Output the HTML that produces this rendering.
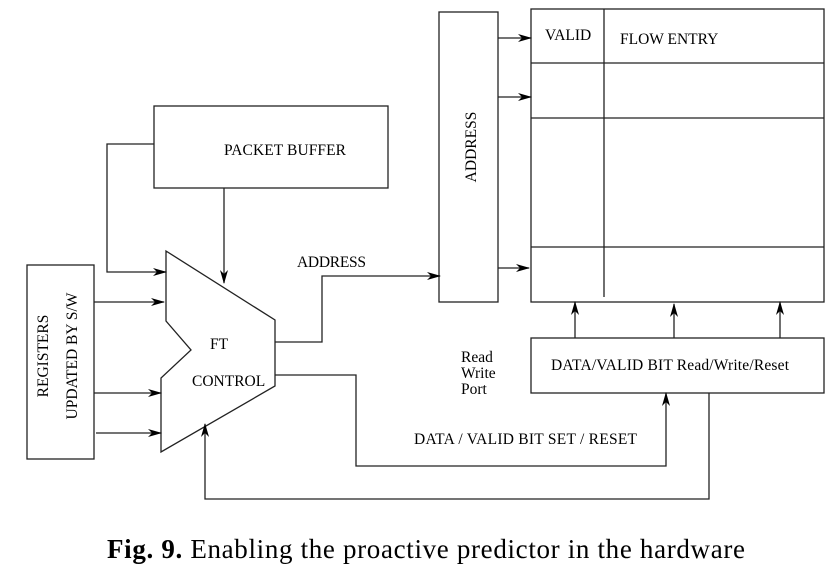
<!DOCTYPE html>
<html><head><meta charset="utf-8"><style>
html,body{margin:0;padding:0;background:#fff}
svg text{font-family:"Liberation Serif",serif;fill:#000}
</style></head><body>
<svg width="839" height="574" viewBox="0 0 839 574" xmlns="http://www.w3.org/2000/svg">
<defs><marker id="ah" markerWidth="14" markerHeight="8" refX="13" refY="4" orient="auto" markerUnits="userSpaceOnUse"><path d="M0,0 L14,4 L0,8 L4,4 Z" fill="#000"/></marker></defs>
<g fill="none" stroke="#222" stroke-width="1.3">
<rect x="154" y="106" width="234" height="82"/>
<rect x="27" y="265" width="67" height="194"/>
<polygon points="166,251 275,320 275,386 161,452 161,378 191,350 166,321"/>
<rect x="439" y="12" width="59" height="290"/>
<rect x="531" y="9" width="293" height="293"/>
<line x1="531" y1="63" x2="824" y2="63"/><line x1="531" y1="118" x2="824" y2="118"/><line x1="531" y1="247" x2="824" y2="247"/>
<line x1="604" y1="9" x2="604" y2="297"/>
<rect x="531" y="338" width="293" height="55"/>
<polyline points="154,144 107,144 107,272 166,272" marker-end="url(#ah)"/>
<line x1="224" y1="188" x2="224" y2="283" marker-end="url(#ah)"/>
<line x1="94" y1="302" x2="164" y2="302" marker-end="url(#ah)"/>
<line x1="94" y1="393" x2="161" y2="393" marker-end="url(#ah)"/>
<line x1="96" y1="433" x2="161" y2="433" marker-end="url(#ah)"/>
<polyline points="275,342 322,342 322,276 440,276" marker-end="url(#ah)"/>
<polyline points="275,375 356,375 356,466 666,466 666,393" marker-end="url(#ah)"/>
<polyline points="709,393 709,499 205,499 205,424" marker-end="url(#ah)"/>
<line x1="498" y1="38" x2="531" y2="38" marker-end="url(#ah)"/>
<line x1="498" y1="97" x2="531" y2="97" marker-end="url(#ah)"/>
<line x1="498" y1="268" x2="529" y2="268" marker-end="url(#ah)"/>
<line x1="575" y1="338" x2="575" y2="302" marker-end="url(#ah)"/>
<line x1="674" y1="338" x2="674" y2="304" marker-end="url(#ah)"/>
<line x1="780" y1="338" x2="780" y2="302" marker-end="url(#ah)"/>
</g>
<g font-size="15.5">
<text x="224" y="155" textLength="122">PACKET BUFFER</text>
<text x="210" y="349">FT</text>
<text x="192" y="386">CONTROL</text>
<text x="297" y="267" textLength="69">ADDRESS</text>
<text transform="translate(476,147) rotate(-90)" text-anchor="middle">ADDRESS</text>
<text transform="translate(48,356) rotate(-90)" text-anchor="middle">REGISTERS</text>
<text transform="translate(77,356) rotate(-90)" text-anchor="middle">UPDATED BY S/W</text>
<text x="545" y="40">VALID</text>
<text x="620" y="44">FLOW ENTRY</text>
<text x="551" y="370" textLength="238">DATA/VALID BIT Read/Write/Reset</text>
<text x="461" y="362">Read</text>
<text x="461" y="378">Write</text>
<text x="461" y="394">Port</text>
<text x="414" y="444" textLength="223">DATA / VALID BIT SET / RESET</text>
</g>
<text x="107" y="558" font-size="27" textLength="638"><tspan font-weight="bold">Fig. 9.</tspan> Enabling the proactive predictor in the hardware</text>
</svg>
</body></html>
